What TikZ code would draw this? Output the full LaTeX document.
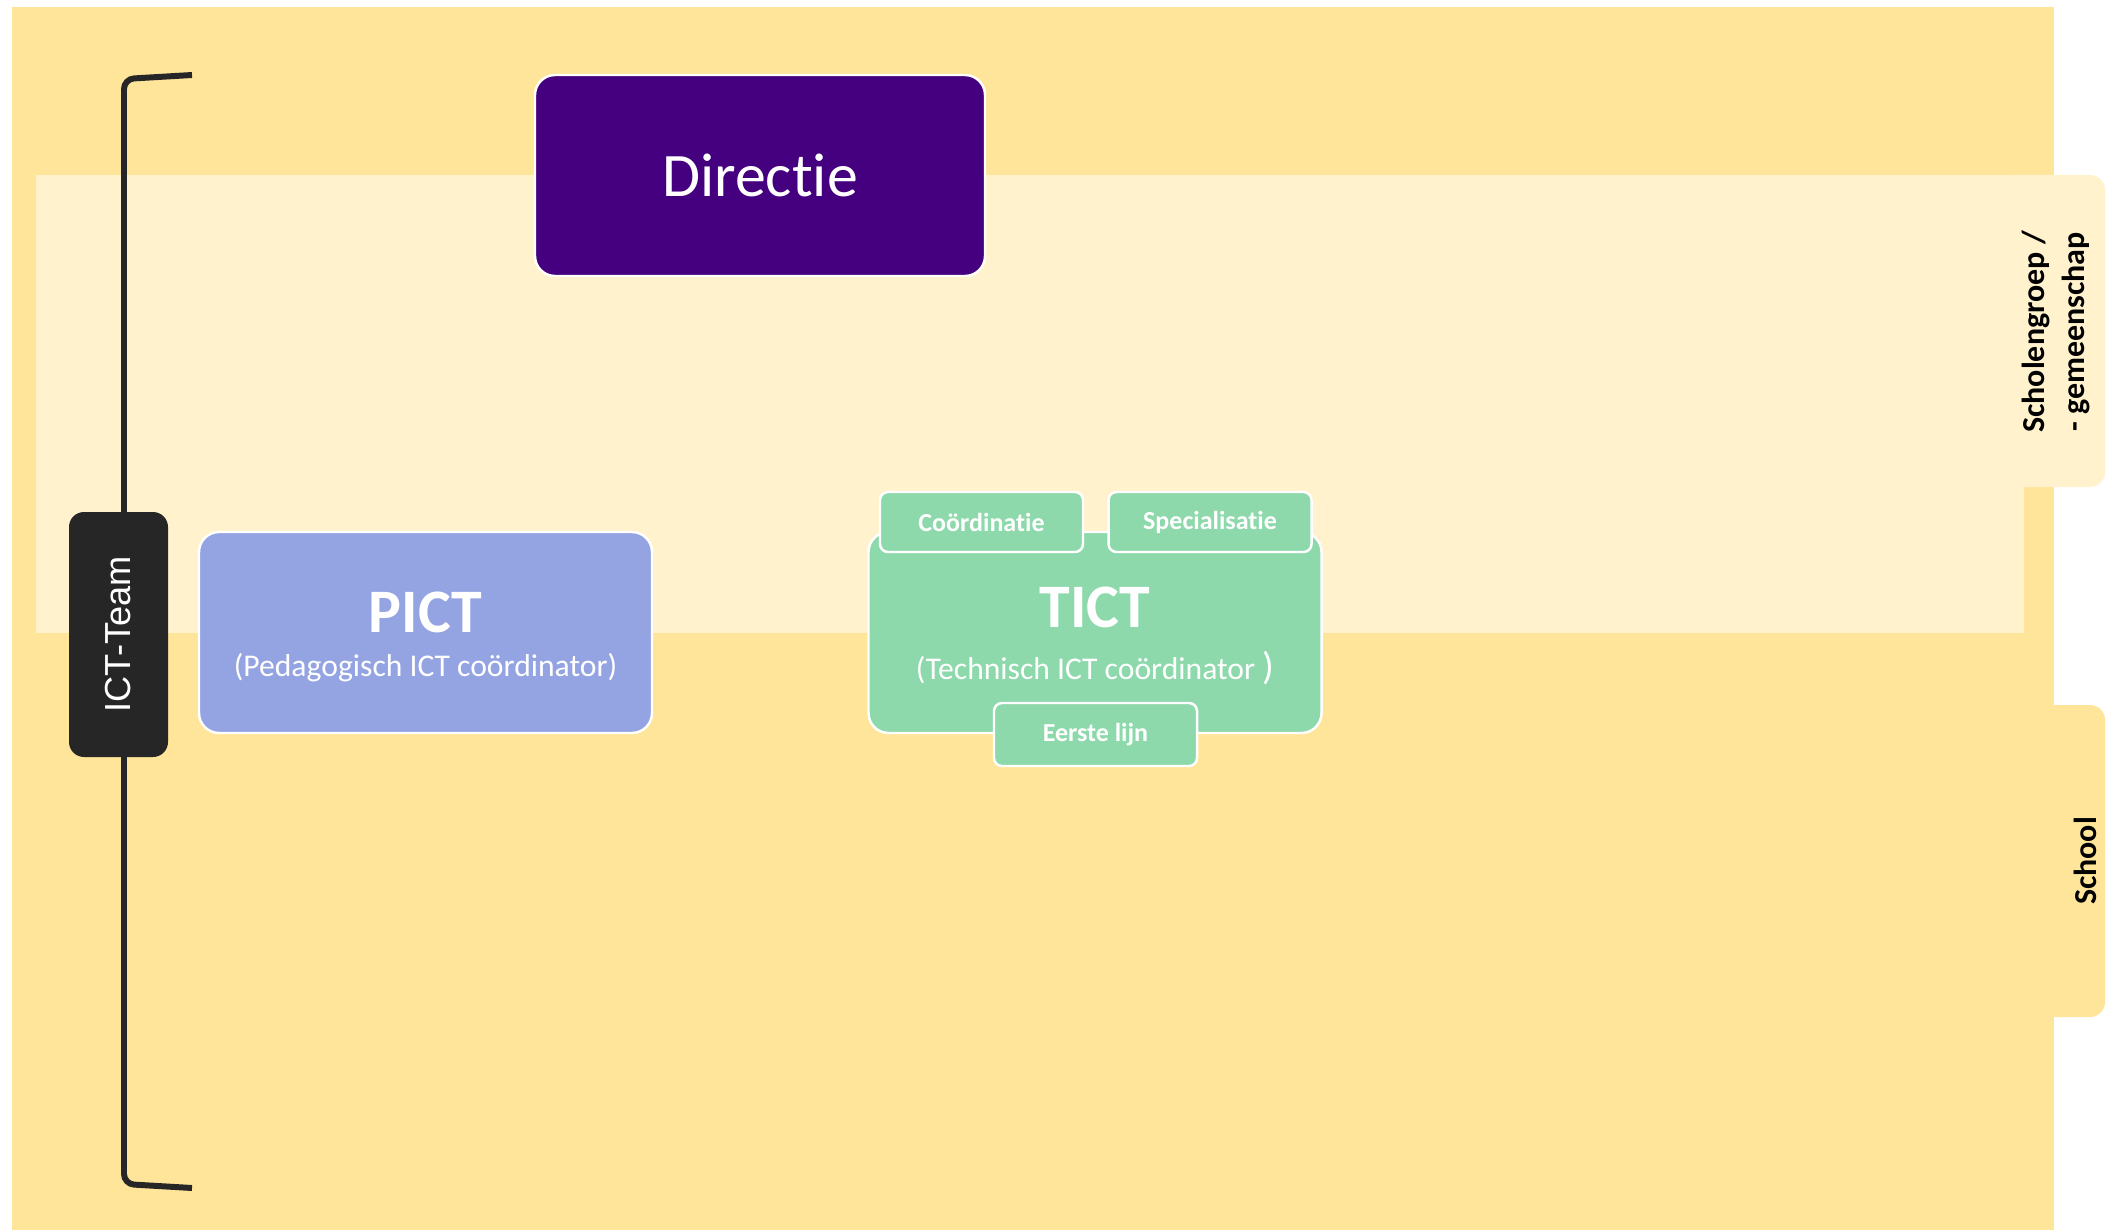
\documentclass[tikz,border=0pt]{standalone}
\usepackage{fontspec}
\setmainfont{Carlito}[Ligatures=NoCommon]
\newfontfamily\arialfont{Liberation Sans}
\usetikzlibrary{positioning}
\definecolor{schoolgeel}{HTML}{FFE599}
\definecolor{groepgeel}{HTML}{FFF2CC}
\definecolor{directiepaars}{HTML}{44007E}
\definecolor{pictblauw}{HTML}{94A3E2}
\definecolor{tictgroen}{HTML}{8ED9AB}
\definecolor{teamzwart}{HTML}{262626}

\begin{document}
\begin{tikzpicture}[
	blok/.style={draw=white, line width=.7pt, rounded corners=2mm, minimum width=4.53cm, minimum height=2.01cm, inner sep=0pt},
	tab/.style={draw=white, line width=.7pt, fill=tictgroen, rounded corners=.8mm, minimum width=2.03cm, minimum height=.6cm, inner sep=0pt, text=white, font=\bfseries\fontsize{7.4}{9}\selectfont},
	titel/.style={inner sep=0pt, text=white, font=\bfseries\fontsize{17.6}{20}\selectfont},
	uitleg/.style={inner sep=0pt, text=white, font=\fontsize{9}{11}\selectfont},
	zijlabel/.style={rotate=90, inner sep=0pt, align=center, font=\bfseries\fontsize{9.1}{11.4}\selectfont}]
	\useasboundingbox[fill=white] (0,0) rectangle (21.08,-12.30);
	% achtergrond: school en scholengroep
	\fill[schoolgeel, rounded corners=1.5mm] (20.00,-7.05) rectangle (21.05,-10.17);
	\fill[schoolgeel] (.12,-.07) rectangle (20.54,-12.30);
	\fill[groepgeel, rounded corners=1.5mm] (19.90,-1.75) rectangle (21.05,-4.87);
	\fill[groepgeel] (.36,-1.75) rectangle (20.24,-6.33);
	\node[zijlabel] (groep) at (20.56,-3.32) {Scholengroep /\\- gemeenschap};
	\node[zijlabel] (school) at (20.85,-8.61) {School};
	% ICT-team haak
	\coordinate (haakboven) at (1.92,-.75);
	\coordinate (haakonder) at (1.92,-11.88);
	\draw[teamzwart, line width=1.7pt, rounded corners=1mm] (haakboven) -- (1.24,-.79) -- (1.24,-11.84) -- (haakonder);
	\node[fill=teamzwart, rounded corners=1.5mm, rotate=90, minimum width=2.45cm, minimum height=.99cm, inner sep=0pt, text=white, font=\arialfont\fontsize{10.3}{12}\selectfont] (team) at (1.185,-6.345) {ICT-Team};
	% blokken
	\node[blok, fill=directiepaars, minimum width=4.50cm, text=white, font=\fontsize{17.6}{20}\selectfont] (directie) at (7.60,-1.755) {Directie};
	\node[blok, fill=pictblauw] (pict) at (4.255,-6.325) {};
	\node[titel] (picttitel) at ([yshift=.205cm]pict.center) {PICT};
	\node[uitleg] (pictuitleg) at ([yshift=-.355cm]pict.center) {(Pedagogisch ICT coördinator)};
	\node[blok, fill=tictgroen] (tict) at (10.95,-6.325) {};
	\node[titel] (tictitel) at ([yshift=.255cm]tict.center) {TICT};
	\node[uitleg] (tictuitleg) at ([yshift=-.355cm]tict.center) {(Technisch ICT coördinator {\fontsize{11}{11}\selectfont)}};
	\node[tab] (coord) at (9.815,-5.22) {Coördinatie};
	\node[tab] (spec) at (12.10,-5.22) {Specialisatie};
	\node[tab, minimum height=.63cm] (eerste) at (10.955,-7.345) {Eerste lijn};
\end{tikzpicture}
\end{document}
